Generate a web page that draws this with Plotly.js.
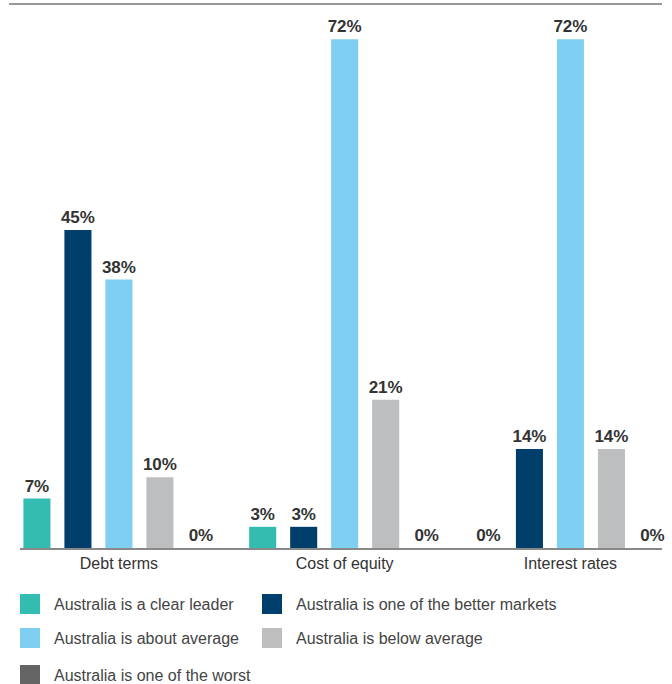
<!DOCTYPE html>
<html>
<head>
<meta charset="utf-8">
<script src="https://cdn.plot.ly/plotly-3.0.1.min.js"></script>
<style>html,body{margin:0;padding:0;background:#fff;}#chart{width:672px;height:684px;}</style>
</head>
<body>
<div id="chart"></div>
<script>
const categories = ['Debt terms', 'Cost of equity', 'Interest rates'];
const seriesNames = [
  'Australia is a clear leader',
  'Australia is one of the better markets',
  'Australia is about average',
  'Australia is below average',
  'Australia is one of the worst'
];
const leaderVals = [7, 3, 0];
const betterVals = [45, 3, 14];
const averageVals = [38, 72, 72];
const belowVals = [10, 21, 14];
const worstVals = [0, 0, 0];
const seriesColors = ['#33bcb0', '#003f6b', '#7fcff3', '#bcbec0', '#646464'];

const allVals = [leaderVals, betterVals, averageVals, belowVals, worstVals];

const W = 672, H = 684;
const M = {l: 20, r: 10, t: 4, b: 136};
const PW = W - M.l - M.r, PH = H - M.t - M.b;
const px2x = px => (px - M.l) / PW;
const py2y = py => (H - M.b - py) / PH;
const FONT = 'Liberation Sans, Arial, Helvetica, sans-serif';

const traces = allVals.map((vals, i) => ({
  type: 'bar',
  name: seriesNames[i],
  x: categories,
  y: vals,
  marker: {color: seriesColors[i]},
  text: vals.map(v => v + '%'),
  textposition: 'outside',
  constraintext: 'none',
  textfont: {family: FONT, size: 17, color: '#333333', weight: 'bold'},
  cliponaxis: false,
  hoverinfo: 'skip',
  showlegend: false
}));

const shapes = [{
  type: 'line', xref: 'paper', yref: 'paper',
  x0: px2x(9), x1: px2x(662), y0: py2y(4), y1: py2y(4),
  line: {color: '#999999', width: 2}
}];
const annotations = [];
const legendPos = [
  [20, 604], [262, 604], [20, 638], [262, 638], [20, 675]
];
seriesNames.forEach((n, i) => {
  const [lx, ly] = legendPos[i];
  shapes.push({
    type: 'rect', xref: 'paper', yref: 'paper',
    x0: px2x(lx), x1: px2x(lx + 20), y0: py2y(ly - 10), y1: py2y(ly + 10),
    fillcolor: seriesColors[i], line: {width: 0}
  });
  annotations.push({
    xref: 'paper', yref: 'paper', x: px2x(lx + 32), y: py2y(ly),
    xanchor: 'left', yanchor: 'middle', showarrow: false,
    text: n, font: {family: FONT, size: 16, color: '#444444'}
  });
});

const layout = {
  width: W, height: H,
  margin: M,
  paper_bgcolor: '#ffffff', plot_bgcolor: '#ffffff',
  barmode: 'group',
  bargap: 0.092,
  bargroupgap: 0.34,
  xaxis: {
    type: 'category',
    range: [-0.4382, 2.4056],
    showline: true, linecolor: '#888888', linewidth: 1.5,
    showgrid: false, zeroline: false, ticks: '',
    tickfont: {family: FONT, size: 16, color: '#333333'},
    fixedrange: true
  },
  yaxis: {
    range: [0, 77],
    visible: false, showgrid: false, zeroline: false, fixedrange: true
  },
  shapes: shapes,
  annotations: annotations,
  font: {family: FONT}
};

Plotly.newPlot('chart', traces, layout, {displayModeBar: false, staticPlot: true});
</script>
</body>
</html>
